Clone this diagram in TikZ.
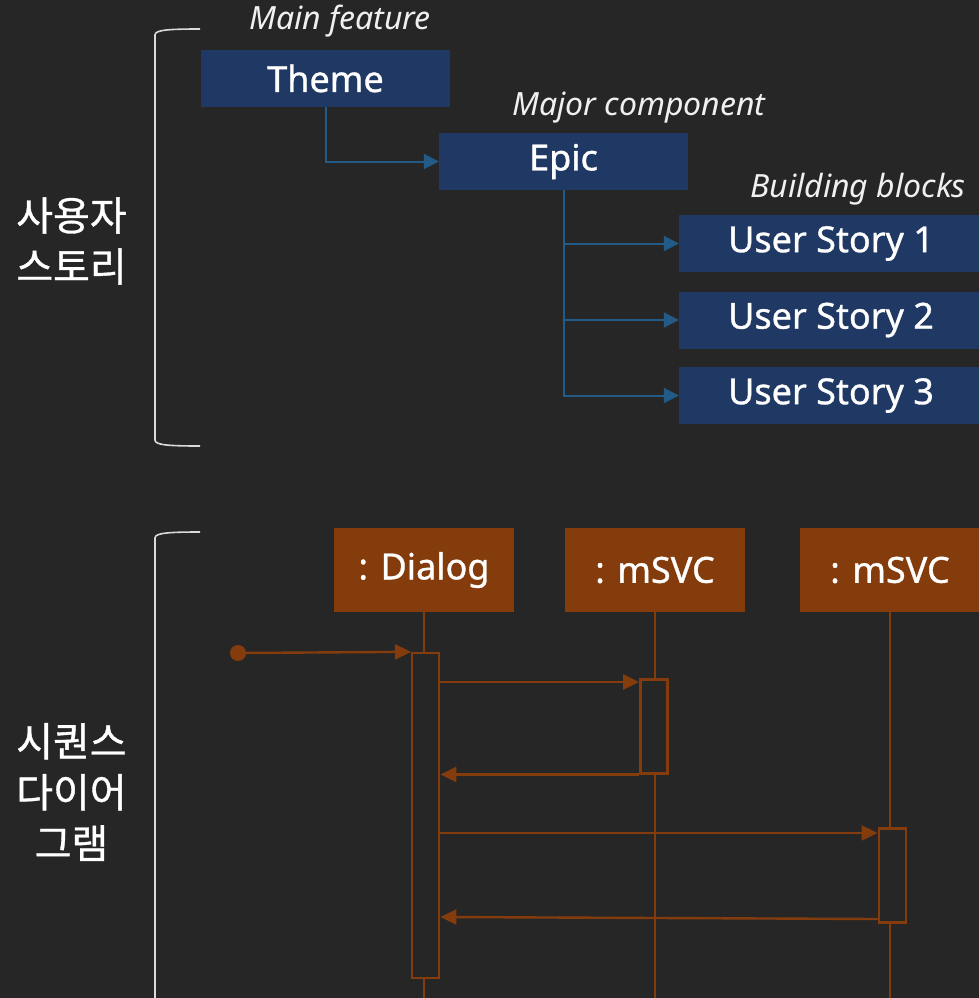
\documentclass[tikz,border=0pt]{standalone}
\usepackage{fontspec}
\setmainfont{Noto Sans}
\newfontfamily\semib{Noto Sans}[FakeBold=0.9]
\newfontfamily\kr{Noto Sans CJK KR}[FakeBold=0.9]
\usetikzlibrary{arrows.meta}
\definecolor{bg}{HTML}{262626}
\definecolor{navy}{HTML}{203864}
\definecolor{link}{HTML}{225A88}
\definecolor{rust}{HTML}{843C0C}
\definecolor{brk}{HTML}{DADADA}
\tikzset{
  story/.style={rectangle, fill=navy, text=white, inner sep=0pt,
    minimum height=57pt, font=\semib\fontsize{36}{40}\selectfont},
  tag/.style={text=white!94!black, inner sep=0pt, font=\itshape\fontsize{32}{36}\selectfont},
  side/.style={text=white, inner sep=0pt, align=center,
    font=\kr\fontsize{40}{51}\selectfont},
  link/.style={draw=link, line width=2pt, -{Triangle[length=15pt,width=15pt]}},
  brace/.style={draw=brk, line width=1.6pt},
  obj/.style={rectangle, fill=rust, text=white, inner sep=0pt,
    minimum width=180pt, minimum height=84pt, font=\semib\fontsize{36}{40}\selectfont},
  life/.style={draw=rust, line width=1.4pt},
  act/.style={rectangle, draw=rust, fill=bg, line width=2.4pt, inner sep=0pt,
    minimum width=27pt},
  msg/.style={draw=rust, line width=2.4pt, -{Triangle[length=16pt,width=15pt]}},
}
\begin{document}
\begin{tikzpicture}[x=1pt,y=-1pt]
\fill[bg] (0,0) rectangle (979,998);
\useasboundingbox (0,0) rectangle (979,998);

% --- user story hierarchy ---
\draw[brace] (200,29) .. controls (168,29) and (155,30) .. (155,35) -- (155,440)
  .. controls (155,445) and (168,446) .. (200,446);
\node[side] (kr1) at (71.5,241) {사용자\\스토리};

\node[story, minimum width=249pt] (theme) at (325.5,78.5) {Theme};
\node[story, minimum width=249pt] (epic) at (563.5,161.5) {Epic};
\node[story, minimum width=304pt] (us1) at (831,243.5) {User Story 1};
\node[story, minimum width=304pt] (us2) at (831,320) {User Story 2};
\node[story, minimum width=304pt] (us3) at (831,395.5) {User Story 3};

\node[tag] (t1) at (340,21) {Main feature};
\node[tag] (t2) at (639,108) {Major component};
\node[tag] (t3) at (858,189) {Building blocks};

\draw[link] (theme.south) |- (epic.west);
\draw[link] (epic.south) |- (us1.west);
\draw[link] (epic.south) |- (us2.west);
\draw[link] (epic.south) |- (us3.west);

% --- sequence diagram ---
\draw[brace] (200,532) .. controls (168,532) and (155,533) .. (155,538) -- (155,1000);
\node[side] (kr2) at (71.5,792) {시퀀스\\다이어\\그램};

\node[obj] (dlg) at (424,570) {: Dialog};
\node[obj] (svc1) at (655,570) {: mSVC};
\node[obj] (svc2) at (890,570) {: mSVC};

\coordinate (end1) at (424,1000);
\coordinate (end2) at (655,1000);
\coordinate (end3) at (890,1000);
\draw[life] (dlg.south) -- (end1);
\draw[life] (svc1.south) -- (end2);
\draw[life] (svc2.south) -- (end3);

\node[act, minimum height=325pt] (a1) at (425.7,815.5) {};
\node[act, minimum height=94pt] (a2) at (653.8,726.3) {};
\node[act, minimum height=94pt] (a3) at (892.2,875.3) {};

\node[circle, fill=rust, inner sep=0pt, minimum size=16pt] (start) at (238,653) {};
\draw[msg] (start.center) -- (a1.north west);
\draw[msg] (a1.east |- 0,682) -- (a2.west |- 0,682);
\draw[msg] (a2.south west) -- (a1.east |- a2.south west);
\draw[msg] (a1.east |- 0,833) -- (a3.west |- 0,833);
\draw[msg] (a3.west |- 0,919) -- (a1.east |- 0,917);
\end{tikzpicture}
\end{document}
